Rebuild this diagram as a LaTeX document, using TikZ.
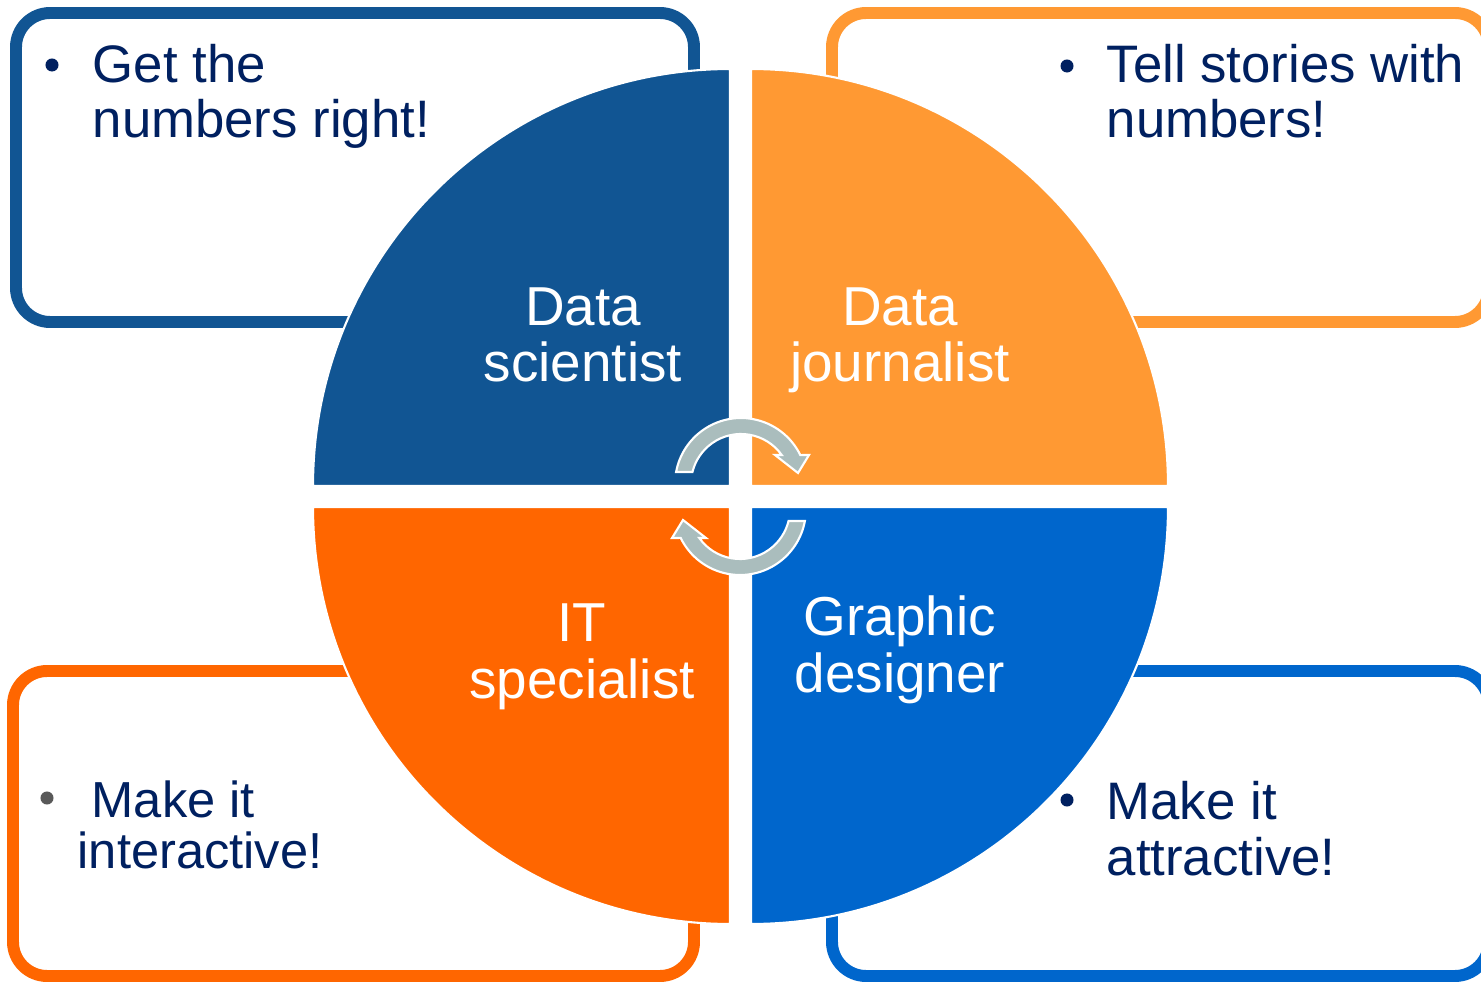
\documentclass[tikz,border=0pt]{standalone}
\usepackage{fontspec}
\setmainfont{Liberation Sans}
\definecolor{scientistBlue}{RGB}{17,85,147}
\definecolor{journalistOrange}{RGB}{255,153,51}
\definecolor{itOrange}{RGB}{255,102,0}
\definecolor{designerBlue}{RGB}{0,102,204}
\definecolor{textNavy}{RGB}{0,32,96}
\definecolor{bulletGrey}{RGB}{89,89,89}
\definecolor{arrowGrey}{RGB}{170,189,189}
\begin{document}
\begin{tikzpicture}
[x=0.01cm, y=0.01cm,
  boxDecorate/.style={line width=3.4pt, rounded corners=9.7pt},
  quarterDecorate/.style={draw=white, line width=0.6pt},
  labelDecorate/.style={text=white, align=center, anchor=base, inner sep=0pt,
    font=\fontsize{15.6pt}{16.2pt}\selectfont},
  textDecorate/.style={text=textNavy, align=left, anchor=base west, inner sep=0pt,
    font=\fontsize{15pt}{15.65pt}\selectfont},
  bulletDecorate/.style={shape=circle, fill=textNavy, inner sep=0pt, minimum size=3.7pt},
  arrowDecorate/.style={fill=arrowGrey, draw=white, line width=0.6pt}]
\useasboundingbox (0,0) rectangle (1481,981);
\clip (0,0) rectangle (1481,981);
%% boxes behind the circle
\foreach \col/\xa/\ya/\xb/\yb in {
  scientistBlue/16/659/694/968, journalistOrange/832/659/1489/968,
  itOrange/13/5/694/310, designerBlue/832/5/1489/310}
{
  \draw[boxDecorate, draw=\col] (\xa,\ya) rectangle (\xb,\yb);
}
%% quarters of the circle
\foreach \col/\cx/\cy/\a in {
  scientistBlue/730/495/90, journalistOrange/751/495/0,
  itOrange/730/474/180, designerBlue/751/474/270}
{
  \filldraw[quarterDecorate, fill=\col] (\cx,\cy) -- ++(\a:417) arc (\a:\a+90:417) -- cycle;
}
%% roles (base = last line)
\node (dsLabel) at (583,599) [labelDecorate] {Data\\scientist};
\node (djLabel) at (900,599) [labelDecorate] {Data\\journalist};
\node (itLabel) at (582,283) [labelDecorate] {IT\\specialist};
\node (gdLabel) at (900,289) [labelDecorate] {Graphic\\designer};
%% bullet texts
\node (dsBullet) at (52,916) [bulletDecorate] {};
\node (dsText) at (92,843) [textDecorate] {Get the\\numbers right!};
\node (djBullet) at (1067,915) [bulletDecorate] {};
\node (djText) at (1106,843) [textDecorate] {Tell stories with\\numbers!};
\node (itBullet) at (47,183) [bulletDecorate, fill=bulletGrey] {};
\node (itText) at (77,113) [textDecorate, font=\fontsize{14.4pt}{14.5pt}\selectfont] {\ Make it\\interactive!};
\node (gdBullet) at (1067,181) [bulletDecorate] {};
\node (gdText) at (1106,106) [textDecorate] {Make it\\attractive!};
%% circular arrows
\foreach \ax/\ay/\rot in {741/497/0, 740/472/180}
{
  \filldraw[arrowDecorate, shift={(\ax,\ay)}, rotate=\rot]
    (169.5:66) arc (169.5:26:66) -- (68,29) -- (57,11) -- (34,29)
    -- (35.4:50) arc (35.4:166.1:50) -- cycle;
}
\end{tikzpicture}
\end{document}
